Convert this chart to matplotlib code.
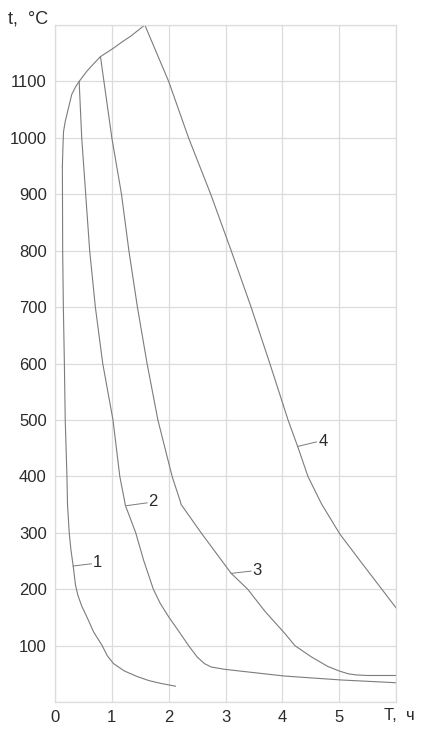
"""Cooling curves t(T) for four start temperatures, grey line drawing."""
import matplotlib
matplotlib.use("Agg")
import matplotlib.pyplot as plt

plt.rcParams["font.family"] = ["Liberation Sans", "DejaVu Sans"]

# heating envelope (time, h / temperature, °C)
heat_t = [0.13, 0.14, 0.15, 0.18, 0.235, 0.295, 0.36, 0.425, 0.56, 0.65, 0.80, 1.03, 1.18, 1.33, 1.58]
heat_c = [950, 985, 1011, 1029, 1052, 1077, 1090, 1100, 1118, 1128, 1144, 1159, 1170, 1180, 1200]

curve1_t = [0.13, 0.135, 0.147, 0.165, 0.18, 0.21, 0.22, 0.25, 0.28, 0.32, 0.36, 0.40, 0.47, 0.56,
            0.68, 0.83, 0.92, 1.03, 1.22, 1.45, 1.65, 1.86, 2.12]
curve1_c = [950, 800, 700, 600, 500, 400, 350, 300, 270, 241, 208, 190, 170, 151,
            124, 100, 82, 68, 55, 45, 38, 33, 28]

curve2_t = [0.425, 0.47, 0.54, 0.61, 0.71, 0.84, 1.02, 1.08, 1.14, 1.24, 1.42, 1.56, 1.73, 1.85,
            2.0, 2.18, 2.35, 2.5, 2.63, 2.75, 2.98, 3.33, 4.04, 5.04, 6.03]
curve2_c = [1100, 1000, 900, 800, 700, 600, 500, 450, 400, 348, 300, 251, 200, 175,
            151, 125, 100, 80, 68, 62, 58, 54, 46, 39, 34]

curve3_t = [0.80, 1.00, 1.17, 1.30, 1.45, 1.62, 1.81, 2.06, 2.20, 2.22, 2.57, 3.10, 3.39,
            3.70, 4.04, 4.22, 4.51, 4.80, 5.00, 5.16, 5.30, 5.50, 6.03]
curve3_c = [1144, 1000, 900, 800, 700, 600, 500, 400, 357, 350, 300, 228, 200,
            160, 122, 100, 80, 63, 55, 50, 48, 47, 47]

curve4_t = [1.58, 2.00, 2.35, 2.74, 3.10, 3.45, 3.78, 4.10, 4.28, 4.45, 4.69, 5.01,
            5.37, 5.75, 6.03]
curve4_c = [1200, 1100, 1000, 900, 800, 700, 600, 500, 450, 400, 351, 298,
            250, 200, 163]

# curve number labels: leader start (on curve), leader end, text position
label_names = ["1", "2", "3", "4"]
leader_from = [(0.32, 241), (1.26, 348), (3.10, 228), (4.27, 453)]
leader_to = [(0.64, 245), (1.62, 353), (3.45, 232), (4.60, 461)]
label_pos = [(0.74, 247), (1.72, 355), (3.56, 233), (4.72, 462)]

x_ticks = [0, 1, 2, 3, 4, 5]
y_ticks = [100, 200, 300, 400, 500, 600, 700, 800, 900, 1000, 1100]

line_color = "#7c7c7c"
grid_color = "#dcdcdc"
text_color = "#2b2b2b"

fig = plt.figure(figsize=(4.30, 7.36), dpi=100)
ax = fig.add_axes([55 / 430, 1 - 702 / 736, (396 - 55) / 430, (702 - 25) / 736])

for t, c in [(heat_t, heat_c), (curve1_t, curve1_c), (curve2_t, curve2_c),
             (curve3_t, curve3_c), (curve4_t, curve4_c)]:
    ax.plot(t, c, color=line_color, lw=0.8)

for name, p0, p1, pt in zip(label_names, leader_from, leader_to, label_pos):
    ax.plot([p0[0], p1[0]], [p0[1], p1[1]], color=line_color, lw=0.7)
    ax.text(pt[0], pt[1], name, ha="center", va="center", fontsize=12, color=text_color)

ax.set_xlim(0, 6)
ax.set_ylim(0, 1200)
ax.set_xticks([0, 1, 2, 3, 4, 5, 6])
ax.set_yticks([0] + y_ticks + [1200])
ax.set_xticklabels([str(v) for v in x_ticks] + [""])
ax.set_yticklabels([""] + [str(v) for v in y_ticks] + [""])
ax.tick_params(length=0, labelsize=12, labelcolor=text_color, pad=6)
ax.grid(True, color=grid_color, lw=0.9)
ax.set_axisbelow(True)
for s in ax.spines.values():
    s.set_color(grid_color)
    s.set_linewidth(0.9)

fig.text(48 / 430, 1 - 19 / 736, "t,  °C", ha="right", va="center", fontsize=13, color=text_color)
fig.text(384 / 430, 1 - 716 / 736, "T,  ч", ha="left", va="center", fontsize=12, color=text_color)

fig.savefig("out.png", dpi=100)
